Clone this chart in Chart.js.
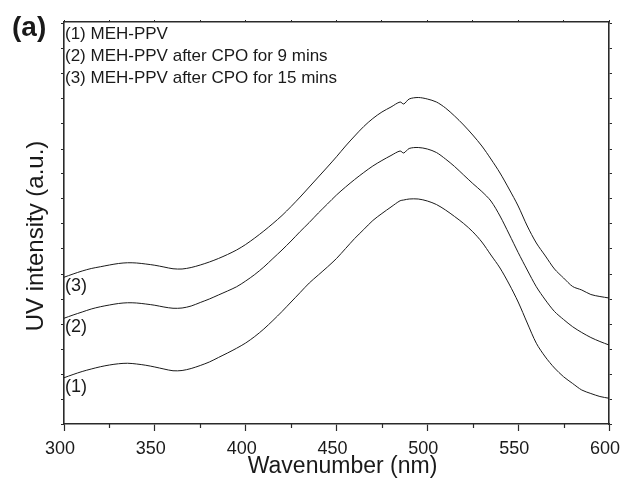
<!DOCTYPE html>
<html><head><meta charset="utf-8">
<script src="https://cdn.jsdelivr.net/npm/chart.js@4"></script>
<style>html,body{margin:0;padding:0;background:#fff}canvas{display:block}</style>
</head><body>
<canvas id="c" width="622" height="487"></canvas>
<script>
const wavelengths = [300,305,310,315,320,325,330,335,340,345,350,355,360,365,370,375,380,385,390,395,400,405,410,415,420,425,430,435,440,445,450,455,460,465,470,475,480,485,487,490,495,500,505,510,515,520,525,530,535,540,545,550,555,560,565,570,575,580,585,590,595,600];
const series1 = [1.85,1.98,2.10,2.20,2.29,2.36,2.41,2.43,2.40,2.35,2.28,2.20,2.13,2.14,2.22,2.34,2.48,2.66,2.84,3.03,3.24,3.50,3.80,4.14,4.50,4.88,5.26,5.64,5.96,6.28,6.62,7.02,7.42,7.78,8.14,8.42,8.68,8.93,8.96,9.00,9.00,8.92,8.78,8.56,8.30,8.02,7.69,7.28,6.76,6.24,5.60,4.88,4.04,3.23,2.68,2.24,1.89,1.62,1.36,1.22,1.10,1.03];
const series2 = [4.23,4.36,4.48,4.60,4.69,4.76,4.82,4.85,4.84,4.80,4.75,4.68,4.63,4.64,4.72,4.86,5.00,5.16,5.32,5.49,5.72,5.98,6.28,6.62,6.96,7.32,7.70,8.06,8.44,8.80,9.16,9.48,9.78,10.06,10.32,10.54,10.74,10.92,10.84,11.02,11.06,11.00,10.86,10.60,10.30,9.96,9.62,9.30,8.92,8.32,7.60,6.86,6.16,5.49,4.96,4.50,4.18,3.89,3.66,3.46,3.30,3.16];
const series3 = [5.87,6.00,6.12,6.22,6.29,6.36,6.42,6.45,6.44,6.40,6.35,6.28,6.21,6.20,6.26,6.36,6.48,6.62,6.78,6.96,7.18,7.44,7.72,8.02,8.34,8.70,9.08,9.48,9.88,10.28,10.69,11.12,11.52,11.90,12.22,12.48,12.68,12.88,12.80,13.00,13.06,13.00,12.88,12.64,12.32,11.96,11.56,11.12,10.60,10.04,9.40,8.72,7.92,7.24,6.72,6.20,5.84,5.50,5.36,5.18,5.10,5.04];
const seriesLabels = ['(1)','(2)','(3)'];
const legendLines = ['(1) MEH-PPV','(2) MEH-PPV after CPO for 9 mins','(3) MEH-PPV after CPO for 15 mins'];
const xTicksMajor = [300,350,400,450,500,550,600];
const xTicksMinor = [325,375,425,475,525,575];
const panelTag = '(a)';
const xTitle = 'Wavenumber (nm)';
const yTitle = 'UV intensity (a.u.)';

const FONT = "'Liberation Sans', Arial, Helvetica, sans-serif";
const AX = '#2a2a2a';
const TXT = '#1a1a1a';

function ds(vals){
  return {data: wavelengths.map((x,i)=>({x:x,y:vals[i]})), borderColor:'#1a1a1a', borderWidth:1, pointRadius:0, tension:0.3, fill:false};
}

const decor = {
  id:'decor',
  afterDraw(chart){
    const c = chart.ctx, ca = chart.chartArea, xs = chart.scales.x, ys = chart.scales.y;
    c.save();
    c.strokeStyle = AX; c.lineWidth = 1.2;
    xTicksMinor.forEach(v=>{
      const px = Math.round(xs.getPixelForValue(v))+0.5;
      c.beginPath(); c.moveTo(px, ca.bottom); c.lineTo(px, ca.bottom+4); c.stroke();
    });
    c.fillStyle = TXT;
    c.textBaseline = 'middle';
    c.textAlign = 'left';
    c.font = 'bold 28px ' + FONT;
    c.fillText(panelTag, 12, 28);
    c.font = '17px ' + FONT;
    legendLines.forEach((t,i)=>{ c.fillText(t, ca.left+1, ca.top+12+i*22); });
    c.font = '18px ' + FONT;
    const firsts = [series1[0], series2[0], series3[0]];
    seriesLabels.forEach((t,i)=>{
      c.fillText(t, ca.left+1, ys.getPixelForValue(firsts[i]) + 9);
    });
    c.save();
    c.translate(36, (ca.top+ca.bottom)/2 + 13);
    c.rotate(-Math.PI/2);
    c.textAlign = 'center';
    c.font = '24px ' + FONT;
    c.fillText(yTitle, 0, 0);
    c.restore();
    c.textAlign = 'center';
    c.font = '23px ' + FONT;
    c.fillText(xTitle, (ca.left+ca.right)/2 + 6, 467);
    c.restore();
  }
};

const intTicks = s => { s.ticks = []; for(let v=0; v<=16; v++) s.ticks.push({value:v}); };
const noPad = s => { s.paddingLeft = 0; s.paddingRight = 0; s.paddingTop = 0; s.paddingBottom = 0; };

new Chart(document.getElementById('c'), {
  type:'line',
  data:{datasets:[ds(series1), ds(series2), ds(series3)]},
  options:{
    responsive:false, animation:false,
    layout:{autoPadding:false, padding:{top:20, right:10, left:0, bottom:0}},
    plugins:{legend:{display:false}, tooltip:{enabled:false}},
    scales:{
      x:{type:'linear', position:'bottom', min:300, max:600,
        afterBuildTicks:s=>{ s.ticks = xTicksMajor.map(v=>({value:v})); },
        ticks:{color:TXT, font:{size:18, family:FONT}, padding:7, maxRotation:0, autoSkip:false, labelOffset:-4},
        grid:{drawOnChartArea:false, tickLength:7, color:AX, tickWidth:1.2},
        border:{color:AX, width:1.6},
        afterFit:s=>{ s.height = 63; noPad(s); }
      },
      x2:{type:'linear', position:'top', min:300, max:600,
        afterBuildTicks:s=>{ s.ticks = xTicksMajor.concat(xTicksMinor).map(v=>({value:v})); },
        ticks:{display:false},
        grid:{drawOnChartArea:false, tickLength:2, color:AX},
        border:{color:AX, width:1.6},
        afterFit:s=>{ s.height = 2; noPad(s); }
      },
      y:{type:'linear', position:'left', min:0, max:16.08,
        afterBuildTicks:intTicks,
        ticks:{display:false},
        grid:{drawOnChartArea:false, tickLength:3, color:AX},
        border:{color:AX, width:1.6},
        afterFit:s=>{ s.width = 64; noPad(s); }
      },
      y2:{type:'linear', position:'right', min:0, max:16.08,
        afterBuildTicks:intTicks,
        ticks:{display:false},
        grid:{drawOnChartArea:false, tickLength:3, color:AX},
        border:{color:AX, width:1.6},
        afterFit:s=>{ s.width = 3; noPad(s); }
      }
    }
  },
  plugins:[decor]
});
</script>
</body></html>
